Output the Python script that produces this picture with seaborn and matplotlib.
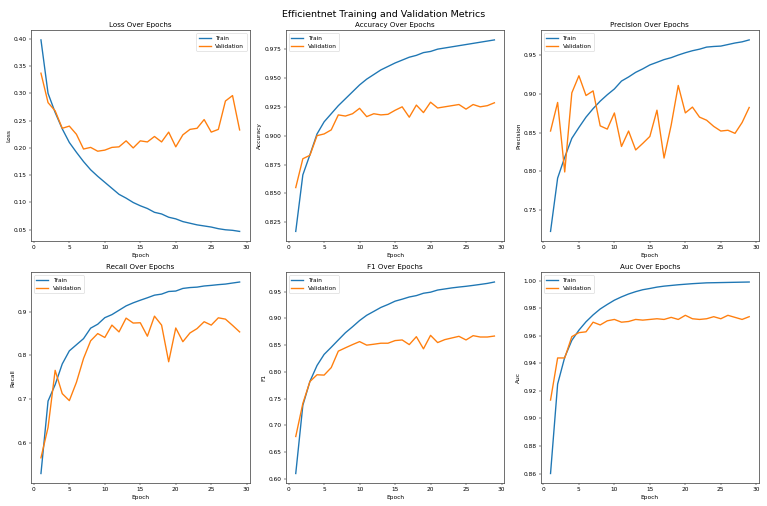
import numpy as np
import pandas as pd
import matplotlib
matplotlib.use("Agg")
import matplotlib.pyplot as plt
import seaborn as sns

epochs = list(range(1, 30))

loss_train = [0.398, 0.300, 0.265, 0.235, 0.210, 0.192, 0.175, 0.160, 0.148, 0.137,
              0.126, 0.115, 0.108, 0.100, 0.094, 0.089, 0.082, 0.079, 0.073, 0.070,
              0.065, 0.062, 0.059, 0.057, 0.055, 0.052, 0.050, 0.049, 0.047]
loss_val = [0.337, 0.283, 0.268, 0.236, 0.240, 0.225, 0.198, 0.201, 0.194, 0.196,
            0.201, 0.202, 0.213, 0.200, 0.213, 0.211, 0.221, 0.211, 0.229, 0.202,
            0.224, 0.234, 0.236, 0.252, 0.229, 0.234, 0.286, 0.296, 0.233]

acc_train = [0.817, 0.866, 0.8835, 0.9015, 0.912, 0.919, 0.926, 0.932, 0.938, 0.944,
             0.949, 0.953, 0.957, 0.960, 0.963, 0.9655, 0.968, 0.9696, 0.972, 0.973,
             0.975, 0.976, 0.977, 0.978, 0.979, 0.980, 0.981, 0.982, 0.983]
acc_val = [0.855, 0.880, 0.883, 0.900, 0.9015, 0.905, 0.918, 0.917, 0.919, 0.9237,
           0.9165, 0.919, 0.918, 0.9185, 0.922, 0.925, 0.916, 0.9265, 0.920, 0.929,
           0.924, 0.925, 0.926, 0.927, 0.923, 0.927, 0.925, 0.926, 0.9285]

prec_train = [0.722, 0.791, 0.818, 0.8425, 0.8566, 0.870, 0.881, 0.8907, 0.899, 0.9065,
              0.9167, 0.922, 0.928, 0.9325, 0.9376, 0.941, 0.9445, 0.947, 0.9504, 0.9534,
              0.956, 0.958, 0.9607, 0.9615, 0.962, 0.964, 0.966, 0.9675, 0.970]
prec_val = [0.852, 0.889, 0.799, 0.9014, 0.9236, 0.898, 0.904, 0.8587, 0.8545, 0.8754,
            0.832, 0.852, 0.8275, 0.836, 0.845, 0.879, 0.817, 0.8595, 0.911, 0.8755,
            0.883, 0.870, 0.866, 0.858, 0.852, 0.853, 0.849, 0.863, 0.8825]

rec_train = [0.529, 0.695, 0.7325, 0.780, 0.810, 0.824, 0.838, 0.862, 0.871, 0.886,
             0.893, 0.903, 0.913, 0.920, 0.926, 0.9316, 0.9376, 0.940, 0.946, 0.947,
             0.953, 0.955, 0.956, 0.9586, 0.960, 0.9617, 0.963, 0.9654, 0.9677]
rec_val = [0.565, 0.6346, 0.7654, 0.712, 0.696, 0.738, 0.7925, 0.833, 0.8496, 0.8406,
           0.869, 0.8534, 0.885, 0.8737, 0.8744, 0.8436, 0.8895, 0.869, 0.785, 0.8624,
           0.831, 0.851, 0.861, 0.8767, 0.869, 0.8857, 0.8827, 0.8684, 0.8534]

f1_train = [0.610, 0.7375, 0.7823, 0.812, 0.8327, 0.846, 0.8597, 0.8732, 0.8843, 0.896,
            0.9058, 0.9131, 0.9205, 0.926, 0.9322, 0.9359, 0.940, 0.9426, 0.947, 0.949,
            0.953, 0.955, 0.957, 0.9586, 0.960, 0.9617, 0.9635, 0.9654, 0.968]
f1_val = [0.6792, 0.741, 0.782, 0.7946, 0.794, 0.808, 0.8388, 0.845, 0.851, 0.8566,
          0.850, 0.8517, 0.8536, 0.8536, 0.8585, 0.8597, 0.851, 0.8658, 0.8431, 0.8683,
          0.8548, 0.8603, 0.8634, 0.8665, 0.8597, 0.8677, 0.8652, 0.8652, 0.867]

auc_train = [0.860, 0.925, 0.9445, 0.9568, 0.9642, 0.9703, 0.9753, 0.9796, 0.9829, 0.986,
             0.9884, 0.9905, 0.9922, 0.9936, 0.9945, 0.9955, 0.9962, 0.9967, 0.9972, 0.9976,
             0.998, 0.9983, 0.9986, 0.9987, 0.9988, 0.9989, 0.999, 0.9991, 0.9992]
auc_val = [0.9134, 0.944, 0.944, 0.9595, 0.9624, 0.963, 0.970, 0.968, 0.971, 0.972,
           0.970, 0.9705, 0.972, 0.9715, 0.972, 0.9725, 0.972, 0.9735, 0.972, 0.975,
           0.9725, 0.972, 0.9725, 0.974, 0.9725, 0.975, 0.9735, 0.972, 0.974]

metrics = [
    ("Loss", loss_train, loss_val, "upper right"),
    ("Accuracy", acc_train, acc_val, "upper left"),
    ("Precision", prec_train, prec_val, "upper left"),
    ("Recall", rec_train, rec_val, "upper left"),
    ("F1", f1_train, f1_val, "upper left"),
    ("Auc", auc_train, auc_val, "upper left"),
]

plt.rcParams.update(matplotlib.rcParamsDefault)
plt.rcParams['font.family'] = ['DejaVu Sans']

dpi = 767 / 18
fig, axes = plt.subplots(2, 3, figsize=(18, 506 / dpi), dpi=dpi)
for ax, (name, tr, va, loc) in zip(axes.flat, metrics):
    df = pd.DataFrame({"Epoch": epochs + epochs,
                       "value": tr + va,
                       "Set": ["Train"] * len(tr) + ["Validation"] * len(va)})
    sns.lineplot(data=df, x="Epoch", y="value", hue="Set",
                 palette=["#1f77b4", "#ff7f0e"], ax=ax, linewidth=2.3)
    ax.set_title(f"{name} Over Epochs")
    ax.set_xlabel("Epoch")
    ax.set_ylabel(name)
    ax.legend(loc=loc, title=None)
    ax.set_xticks([0, 5, 10, 15, 20, 25, 30])
    for s in ax.spines.values():
        s.set_color("#555555")
        s.set_linewidth(1.4)

fig.suptitle("Efficientnet Training and Validation Metrics", fontsize=16)
fig.tight_layout()
fig.savefig("out.png", dpi=dpi)
